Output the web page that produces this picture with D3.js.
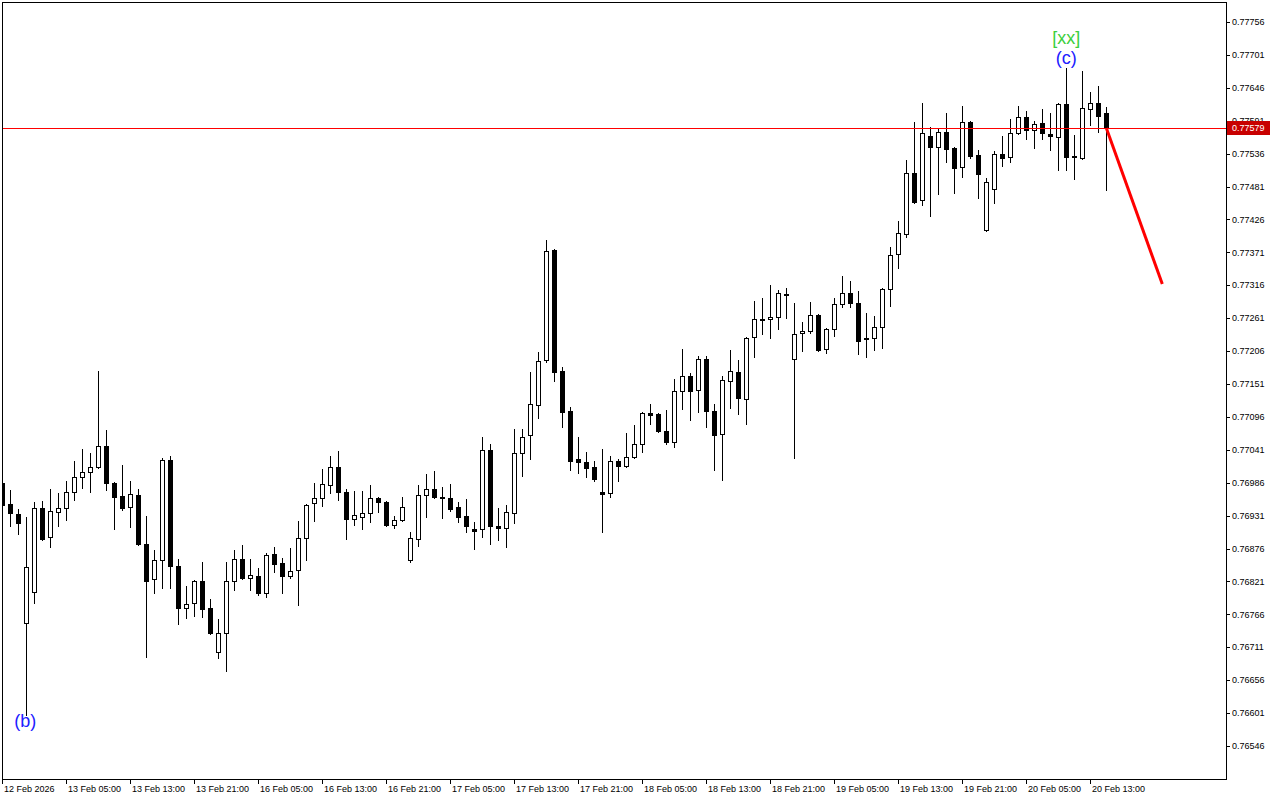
<!DOCTYPE html>
<html>
<head>
<meta charset="utf-8">
<script src="https://cdn.jsdelivr.net/npm/d3@7/dist/d3.min.js"></script>
<style>
html, body { margin: 0; padding: 0; background: #fff; }
svg { display: block; font-family: "Liberation Sans", Arial, sans-serif; }
</style>
</head>
<body>
<div id="chart"></div>
<script>
const width = 1280;
const height = 800;

// hourly bars, 12 Feb 21:00 .. 20 Feb 14:00
var open = [0.76986,0.76950,0.76934,0.76752,0.76803,0.76944,0.76895,0.76937,0.76944,0.76970,
  0.76996,0.77004,0.77012,0.77047,0.76986,0.76964,0.76945,0.76965,0.76884,0.76825,
  0.76857,0.77024,0.76847,0.76777,0.76785,0.76822,0.76777,0.76703,0.76735,0.76822,
  0.76859,0.76827,0.76830,0.76802,0.76867,0.76852,0.76830,0.76840,0.76894,0.76952,
  0.76960,0.76982,0.77012,0.76970,0.76925,0.76929,0.76935,0.76960,0.76954,0.76915,
  0.76924,0.76857,0.76892,0.76965,0.76976,0.76962,0.76960,0.76945,0.76930,0.76909,
  0.76909,0.77041,0.76914,0.76910,0.76935,0.77036,0.77066,0.77116,0.77191,0.77375,
  0.77173,0.77106,0.77026,0.77021,0.77012,0.76970,0.76969,0.77022,0.77014,0.77029,
  0.77051,0.77103,0.77101,0.77072,0.77054,0.77139,0.77164,0.77141,0.77193,0.77106,
  0.77067,0.77156,0.77171,0.77126,0.77230,0.77258,0.77260,0.77263,0.77301,0.77193,
  0.77236,0.77240,0.77266,0.77209,0.77243,0.77285,0.77303,0.77286,0.77228,0.77228,
  0.77246,0.77310,0.77368,0.77402,0.77504,0.77459,0.77565,0.77547,0.77572,0.77545,
  0.77514,0.77589,0.77534,0.77408,0.77477,0.77535,0.77530,0.77570,0.77597,0.77576,
  0.77587,0.77569,0.77564,0.77619,0.77532,0.77529,0.77611,0.77621,0.77604];
var high = [0.76989,0.76974,0.76942,0.76929,0.76954,0.76955,0.76976,0.76969,0.76989,0.77022,
  0.77042,0.77036,0.77173,0.77074,0.76987,0.77016,0.76989,0.76976,0.76930,0.76874,
  0.77027,0.77031,0.76859,0.76813,0.76823,0.76854,0.76792,0.76758,0.76854,0.76874,
  0.76882,0.76859,0.76843,0.76869,0.76879,0.76860,0.76877,0.76922,0.76950,0.76986,
  0.77009,0.77031,0.77039,0.76976,0.76972,0.76972,0.76982,0.76962,0.76955,0.76930,
  0.76962,0.76904,0.76982,0.77001,0.77006,0.76979,0.76984,0.76954,0.76959,0.76920,
  0.77062,0.77051,0.76944,0.76949,0.77076,0.77076,0.77171,0.77204,0.77392,0.77377,
  0.77179,0.77113,0.77062,0.77037,0.77022,0.77042,0.77031,0.77026,0.77069,0.77082,
  0.77104,0.77118,0.77103,0.77108,0.77159,0.77209,0.77169,0.77198,0.77198,0.77118,
  0.77164,0.77208,0.77191,0.77230,0.77290,0.77295,0.77316,0.77308,0.77311,0.77286,
  0.77255,0.77288,0.77268,0.77245,0.77295,0.77331,0.77323,0.77306,0.77270,0.77265,
  0.77311,0.77380,0.77423,0.77525,0.77589,0.77621,0.77581,0.77577,0.77604,0.77547,
  0.77616,0.77591,0.77542,0.77495,0.77540,0.77565,0.77594,0.77616,0.77607,0.77591,
  0.77611,0.77604,0.77621,0.77679,0.77567,0.77674,0.77639,0.77649,0.77614];
var low = [0.76945,0.76914,0.76900,0.76598,0.76785,0.76890,0.76879,0.76914,0.76924,0.76957,
  0.76977,0.76970,0.77011,0.76974,0.76909,0.76940,0.76912,0.76882,0.76695,0.76802,
  0.76810,0.76810,0.76750,0.76760,0.76763,0.76762,0.76733,0.76693,0.76671,0.76807,
  0.76825,0.76807,0.76798,0.76795,0.76837,0.76802,0.76827,0.76782,0.76857,0.76922,
  0.76947,0.76969,0.76957,0.76892,0.76915,0.76909,0.76920,0.76937,0.76914,0.76910,
  0.76922,0.76854,0.76880,0.76929,0.76960,0.76927,0.76939,0.76920,0.76904,0.76875,
  0.76895,0.76884,0.76890,0.76879,0.76919,0.76997,0.77026,0.77094,0.77188,0.77156,
  0.77079,0.77007,0.77002,0.76996,0.76989,0.76904,0.76962,0.76989,0.77012,0.77027,
  0.77037,0.77084,0.77071,0.77051,0.77046,0.77109,0.77091,0.77104,0.77079,0.77007,
  0.76991,0.77111,0.77101,0.77084,0.77196,0.77235,0.77228,0.77243,0.77261,0.77027,
  0.77206,0.77236,0.77206,0.77203,0.77231,0.77280,0.77280,0.77201,0.77196,0.77208,
  0.77211,0.77281,0.77345,0.77397,0.77453,0.77450,0.77432,0.77469,0.77522,0.77470,
  0.77497,0.77529,0.77462,0.77407,0.77454,0.77515,0.77522,0.77569,0.77560,0.77545,
  0.77560,0.77542,0.77509,0.77509,0.77494,0.77527,0.77584,0.77572,0.77475];
var close = [0.76949,0.76935,0.76919,0.76845,0.76944,0.76892,0.76939,0.76944,0.76970,0.76996,
  0.77004,0.77012,0.77047,0.76986,0.76962,0.76944,0.76967,0.76884,0.76822,0.76857,
  0.77024,0.76847,0.76777,0.76783,0.76822,0.76775,0.76735,0.76735,0.76822,0.76859,
  0.76827,0.76832,0.76802,0.76865,0.76850,0.76830,0.76838,0.76894,0.76949,0.76960,
  0.76984,0.77012,0.76970,0.76925,0.76932,0.76935,0.76960,0.76954,0.76915,0.76924,
  0.76945,0.76894,0.76965,0.76976,0.76962,0.76960,0.76942,0.76929,0.76914,0.76905,
  0.77041,0.76914,0.76910,0.76937,0.77036,0.77062,0.77118,0.77189,0.77373,0.77171,
  0.77104,0.77022,0.77021,0.77011,0.76992,0.76967,0.77022,0.77014,0.77029,0.77051,
  0.77103,0.77099,0.77072,0.77054,0.77139,0.77164,0.77139,0.77193,0.77106,0.77066,
  0.77158,0.77173,0.77128,0.77228,0.77260,0.77260,0.77263,0.77303,0.77300,0.77235,
  0.77240,0.77266,0.77208,0.77243,0.77285,0.77303,0.77286,0.77223,0.77226,0.77246,
  0.77310,0.77367,0.77403,0.77504,0.77455,0.77570,0.77547,0.77572,0.77544,0.77512,
  0.77589,0.77532,0.77502,0.77489,0.77535,0.77529,0.77570,0.77597,0.77576,0.77586,
  0.77570,0.77565,0.77619,0.77530,0.77530,0.77612,0.77621,0.77599,0.77579];

var priceTicks = ["0.77756","0.77701","0.77646","0.77591","0.77536","0.77481","0.77426","0.77371",
  "0.77316","0.77261","0.77206","0.77151","0.77096","0.77041","0.76986","0.76931","0.76876",
  "0.76821","0.76766","0.76711","0.76656","0.76601","0.76546"];

var timeTickBars = [0,8,16,24,32,40,48,56,64,72,80,88,96,104,112,120,128,136];
var timeTickLabels = ["12 Feb 2026","13 Feb 05:00","13 Feb 13:00","13 Feb 21:00","16 Feb 05:00",
  "16 Feb 13:00","16 Feb 21:00","17 Feb 05:00","17 Feb 13:00","17 Feb 21:00","18 Feb 05:00",
  "18 Feb 13:00","18 Feb 21:00","19 Feb 05:00","19 Feb 13:00","19 Feb 21:00","20 Feb 05:00",
  "20 Feb 13:00"];

// wave marks
var waveText = ["(b)", "(c)", "[xx]"];
var waveBar = [3, 133, 133];
var waveColor = ["#2020ff", "#2020ff", "#3ccf3c"];

// projected move
var forecastBars = [138, 145];
var forecastPrices = [0.77579, 0.77318];

var plot = {left: 2, top: 2, right: 1226, bottom: 779};

var svg = d3.select("#chart").append("svg")
  .attr("width", width)
  .attr("height", height);

var x = d3.scaleLinear().domain([0, 152]).range([plot.left + 0.3, plot.left + 0.3 + 152 * 8]);
var y = d3.scaleLinear().domain([0.76546, 0.77756]).range([746, 22]);

function px(i) { return Math.round(x(i)) + 0.5; }
function py(v) { return Math.round(y(v)) + 0.5; }

svg.append("clipPath").attr("id", "clip")
  .append("rect")
  .attr("x", plot.left).attr("y", plot.top)
  .attr("width", plot.right - plot.left).attr("height", plot.bottom - plot.top);

var g = svg.append("g").attr("clip-path", "url(#clip)");

var bars = d3.range(open.length);

// wicks
g.append("g").selectAll("line")
  .data(bars)
  .enter()
  .append("line")
  .attr("x1", px).attr("x2", px)
  .attr("y1", function(i) { return py(high[i]) - 0.5; })
  .attr("y2", function(i) { return py(low[i]) + 0.5; })
  .attr("stroke", "#000")
  .attr("stroke-width", 1)
  .attr("shape-rendering", "crispEdges");

// bodies
g.append("g").selectAll("rect")
  .data(bars)
  .enter()
  .append("rect")
  .attr("x", function(i) { return px(i) - 2; })
  .attr("width", 4)
  .attr("y", function(i) { return py(Math.max(open[i], close[i])); })
  .attr("height", function(i) {
    return Math.max(py(Math.min(open[i], close[i])) - py(Math.max(open[i], close[i])), 1);
  })
  .attr("fill", function(i) { return close[i] >= open[i] ? "#fff" : "#000"; })
  .attr("stroke", "#000")
  .attr("stroke-width", 1)
  .attr("shape-rendering", "crispEdges");

// bid line
var last = close[close.length - 1];
g.append("line")
  .attr("x1", plot.left).attr("x2", plot.right)
  .attr("y1", py(last)).attr("y2", py(last))
  .attr("stroke", "#ff0000")
  .attr("stroke-width", 1)
  .attr("shape-rendering", "crispEdges");

// forecast
g.append("line")
  .attr("x1", x(forecastBars[0])).attr("y1", y(forecastPrices[0]))
  .attr("x2", x(forecastBars[1])).attr("y2", y(forecastPrices[1]))
  .attr("stroke", "#ff0000")
  .attr("stroke-width", 3);

// wave labels
g.selectAll("text.wave")
  .data(waveText)
  .enter()
  .append("text")
  .attr("class", "wave")
  .attr("x", function(d, k) { return x(waveBar[k]) - (k == 0 ? 1 : 0); })
  .attr("y", function(d, k) {
    var b = waveBar[k];
    if (k == 0) return y(low[b]) + 12;
    if (k == 1) return y(high[b]) - 4.5;
    return y(high[b]) - 24;
  })
  .attr("text-anchor", "middle")
  .attr("font-size", 18)
  .attr("fill", function(d, k) { return waveColor[k]; })
  .text(function(d) { return d; });

// frame
svg.append("rect")
  .attr("x", plot.left + 0.5).attr("y", plot.top + 0.5)
  .attr("width", plot.right - plot.left).attr("height", plot.bottom - plot.top)
  .attr("fill", "none")
  .attr("stroke", "#000")
  .attr("shape-rendering", "crispEdges");

// price axis
var ya = svg.append("g").attr("font-size", 9);
ya.selectAll("line")
  .data(priceTicks)
  .enter()
  .append("line")
  .attr("x1", plot.right).attr("x2", plot.right + 4)
  .attr("y1", function(d) { return py(+d); })
  .attr("y2", function(d) { return py(+d); })
  .attr("stroke", "#000")
  .attr("shape-rendering", "crispEdges");
ya.selectAll("text")
  .data(priceTicks)
  .enter()
  .append("text")
  .attr("x", plot.right + 6)
  .attr("y", function(d) { return y(+d); })
  .attr("dy", "0.35em")
  .attr("fill", "#000")
  .text(function(d) { return d; });

// last price tag
ya.append("rect")
  .attr("x", plot.right + 1).attr("y", Math.round(y(last)) - 7)
  .attr("width", 43).attr("height", 14)
  .attr("fill", "#c80000");
ya.append("text")
  .attr("x", plot.right + 6)
  .attr("y", y(last))
  .attr("dy", "0.35em")
  .attr("fill", "#fff")
  .text(d3.format(".5f")(last));

// time axis
var xa = svg.append("g").attr("font-size", 9);
xa.selectAll("line")
  .data(timeTickBars)
  .enter()
  .append("line")
  .attr("x1", px).attr("x2", px)
  .attr("y1", plot.bottom).attr("y2", plot.bottom + 5)
  .attr("stroke", "#000")
  .attr("shape-rendering", "crispEdges");
xa.selectAll("text")
  .data(timeTickBars)
  .enter()
  .append("text")
  .attr("x", function(i) { return px(i) + 1.5; })
  .attr("y", plot.bottom + 13)
  .attr("fill", "#000")
  .text(function(i, k) { return timeTickLabels[k]; });
</script>
</body>
</html>
